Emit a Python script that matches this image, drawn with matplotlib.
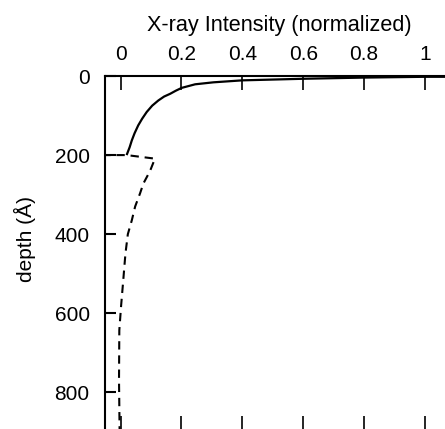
import matplotlib
matplotlib.use("Agg")
import matplotlib.pyplot as plt

plt.rcParams['font.family'] = ['Liberation Sans', 'DejaVu Sans']

# Surface-weighted intensity (solid) vs depth
solid_x = [0.020, 0.030, 0.037, 0.046, 0.058, 0.071, 0.086, 0.104, 0.124, 0.143,
           0.163, 0.182, 0.201, 0.245, 0.305, 0.40, 0.60, 0.80, 1.0, 1.08]
solid_depth = [200, 180, 163, 145, 125, 108, 91, 75, 62, 52,
               45, 37, 30, 21, 16, 11, 7, 4, 2, 2]

# Deeper-layer intensity (dashed) vs depth
dashed_x = [-0.06, 0.020, 0.113, 0.097, 0.075, 0.064, 0.048, 0.037, 0.024, 0.016,
            0.009, 0.002, -0.004, -0.005, -0.003]
dashed_depth = [200, 200, 209, 240, 272, 297, 330, 365, 400, 450,
                516, 580, 643, 769, 900]

xticks = [0, 0.2, 0.4, 0.6, 0.8, 1]
xticklabels = ['0', '0.2', '0.4', '0.6', '0.8', '1']
yticks = [0, 200, 400, 600, 800]
yticklabels = ['0', '200', '400', '600', '800']

fig = plt.figure(figsize=(4.45, 4.29), dpi=100)
W, H = 445, 429
left_px, top_px, right_px, bottom_px = 105, 76, 447, 430
ax = fig.add_axes([left_px / W, 1 - bottom_px / H,
                   (right_px - left_px) / W, (bottom_px - top_px) / H])

ax.plot(solid_x, solid_depth, color='black', lw=1.6, solid_capstyle='butt')
ax.plot(dashed_x, dashed_depth, color='black', lw=1.5, ls=(0, (4.0, 2.8)))

ax.set_xlim(-0.051, -0.051 + (right_px - left_px) / 304.5)
ax.set_ylim((bottom_px - 75.5) / 79.2 * 200, 0)

ax.xaxis.tick_top()
ax.xaxis.set_label_position('top')
ax.set_xticks(xticks)
ax.set_xticklabels(xticklabels)
ax.set_yticks(yticks)
ax.set_yticklabels(yticklabels)
ax.tick_params(axis='x', which='both', direction='in', length=10, width=1.2,
               top=True, bottom=True, labelsize=15, pad=8.3)
ax.tick_params(axis='y', which='both', direction='in', length=8, width=1.5,
               left=True, right=False, labelsize=15, pad=11)

for s in ['left', 'top']:
    ax.spines[s].set_linewidth(1.5)
ax.spines['right'].set_visible(False)
ax.spines['bottom'].set_linewidth(1.2)

ax.set_xlabel('X-ray Intensity (normalized)', fontsize=15.6)
ax.xaxis.set_label_coords((279.5 - left_px) / (right_px - left_px),
                          (bottom_px - 36) / (bottom_px - top_px))
ax.xaxis.label.set_va('bottom')
ax.set_ylabel('depth (Å)', fontsize=15)
ax.yaxis.set_label_coords((36 - left_px) / (right_px - left_px),
                          (bottom_px - 239) / (bottom_px - top_px))

fig.savefig('out.png', dpi=100)
